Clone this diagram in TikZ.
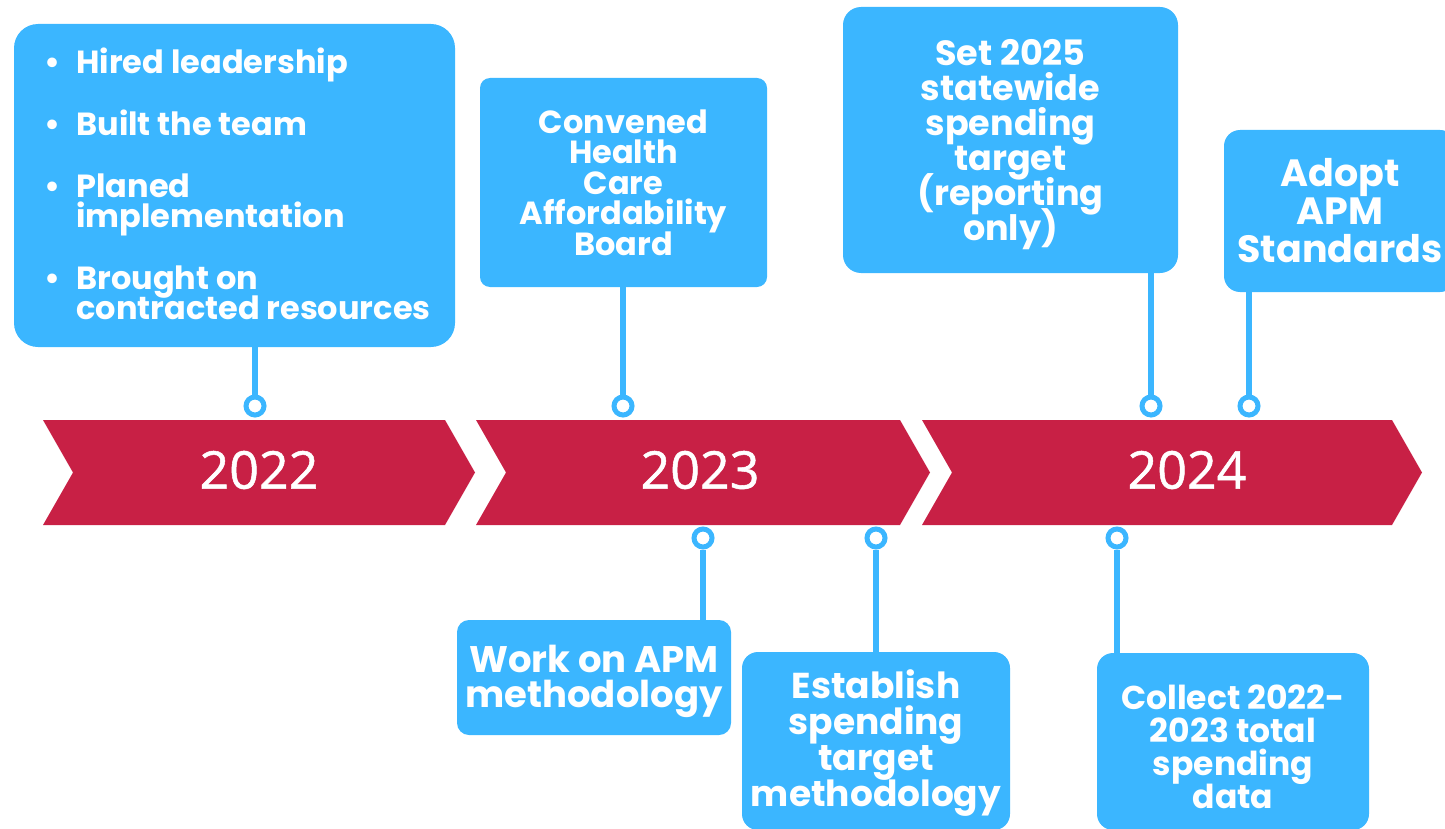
\documentclass[tikz,border=0pt]{standalone}
\usepackage{fontspec}
\setmainfont{Poppins}
\newfontfamily\yearfont[FakeBold=1]{Open Sans}
\usepackage{xcolor}
\usepackage{tikz}

\definecolor{skyblue}{HTML}{3BB6FF}
\definecolor{crimson}{HTML}{C82045}

% size, line pitch; lines never pushed apart
\newcommand{\cardfont}[2]{\fontsize{#1}{#2}\selectfont\bfseries\lineskiplimit=-100pt\relax}

\begin{document}
\begin{tikzpicture}[x=0.5pt,y=-0.5pt,
      card/.style={fill=skyblue,inner sep=0pt},
      cardtext/.style={text=white,align=center,inner sep=0pt},
      knob/.style={circle,draw=skyblue,line width=2.5pt,fill=white,
        minimum size=9pt,inner sep=0pt},
      stalk/.style={draw=skyblue,line width=3pt},
      year/.style={text=white,font=\yearfont\fontsize{26}{26}\selectfont}]
      \useasboundingbox (0,0) rectangle (1445,829);
      \clip (0,0) rectangle (1445,829);

      % the three year arrows
      \foreach \a/\b/\yr/\c in {43/445/2022/259, 476/900/2023/700, 922/1392/2024/1187} {
          \fill[crimson] (\a,420) -- (\b,420) -- (\b+30,472.5) -- (\b,525)
            -- (\a,525) -- (\a+30,472.5) -- cycle;
          \node[year] (y\yr) at (\c,470) {\yr};
      }

      % knobs on the arrows
      \node[knob] (kHired) at (255,406) {};
      \node[knob] (kConvened) at (623,406) {};
      \node[knob] (kSet) at (1151,406) {};
      \node[knob] (kAdopt) at (1249,406) {};
      \node[knob] (kWork) at (703,538) {};
      \node[knob] (kEstablish) at (876,538) {};
      \node[knob] (kCollect) at (1117,538) {};

      % cards above
      \node[card,minimum width=220.5pt,minimum height=161.5pt,rounded corners=12pt,
        label={[cardtext,align=left,font=\cardfont{16}{15},xshift=1.5pt,yshift=1pt]center:{%
        \makebox[16pt][l]{\textbullet}Hired leadership\\[16pt]
        \makebox[16pt][l]{\textbullet}Built the team\\[16pt]
        \makebox[16pt][l]{\textbullet}Planed\\
        \hspace*{16pt}implementation\\[16pt]
        \makebox[16pt][l]{\textbullet}Brought on\\
        \hspace*{16pt}contracted resources}}] (hired) at (234.5,185.5) {};
      \node[card,minimum width=143.5pt,minimum height=104.5pt,rounded corners=5pt,
        label={[cardtext,font=\cardfont{16}{15.25}]center:{%
        Convened\\Health\\Care\\Affordability\\Board}}] (convened) at (623.5,182.5) {};
      \node[card,minimum width=167.5pt,minimum height=133pt,rounded corners=9pt,
        label={[cardtext,font=\cardfont{17.5}{17.5},yshift=-2.5pt]center:{%
        Set 2025\\statewide\\spending\\target\\(reporting\\only)}}] (setTarget) at (1010.5,140) {};
      \node[card,minimum width=116pt,minimum height=81pt,rounded corners=8pt,
        label={[cardtext,font=\cardfont{19}{19}]center:{%
        Adopt\\APM\\Standards}}] (adopt) at (1340,211) {};

      % cards below
      \node[card,minimum width=137pt,minimum height=57.5pt,rounded corners=6pt,
        label={[cardtext,font=\cardfont{18.5}{17.5},yshift=-2pt]center:{%
        Work on APM\\methodology}}] (work) at (594,677.5) {};
      \node[card,minimum width=134pt,minimum height=89pt,rounded corners=8pt,
        label={[cardtext,font=\cardfont{18}{18},yshift=-1pt]center:{%
        Establish\\spending\\target\\methodology}}] (establish) at (876,741) {};
      \node[card,minimum width=136pt,minimum height=88.5pt,rounded corners=8pt,
        label={[cardtext,font=\cardfont{16.5}{16.5},yshift=-2.5pt]center:{%
        Collect 2022-\\2023 total\\spending\\data}}] (collect) at (1233,741.5) {};

      % stalks from cards to knobs
      \draw[stalk] (hired.south -| kHired) -- (kHired.north);
      \draw[stalk] (convened.south -| kConvened) -- (kConvened.north);
      \draw[stalk] (setTarget.south -| kSet) -- (kSet.north);
      \draw[stalk] (adopt.south -| kAdopt) -- (kAdopt.north);
      \draw[stalk] (kWork.south) -- (work.north -| kWork);
      \draw[stalk] (kEstablish.south) -- (establish.north -| kEstablish);
      \draw[stalk] (kCollect.south) -- (collect.north -| kCollect);
\end{tikzpicture}
\end{document}
